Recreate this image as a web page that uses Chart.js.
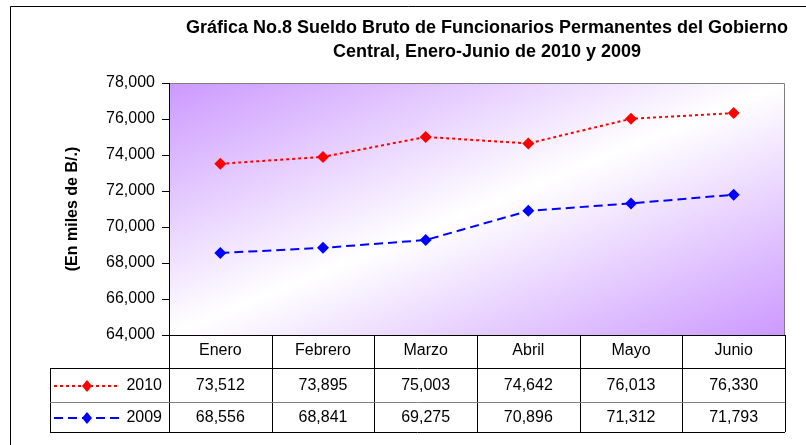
<!DOCTYPE html>
<html>
<head>
<meta charset="utf-8">
<script src="https://cdn.jsdelivr.net/npm/chart.js@4.4.1/dist/chart.umd.min.js"></script>
<style>
  html, body { margin: 0; padding: 0; background: #fff; }
  #grafica { display: block; }
</style>
</head>
<body>
<canvas id="grafica" width="806" height="445"></canvas>
<script>
// Datos de la gráfica
const meses = ['Enero', 'Febrero', 'Marzo', 'Abril', 'Mayo', 'Junio'];
const series = ['2010', '2009'];
const sueldo2010 = [73512, 73895, 75003, 74642, 76013, 76330];
const sueldo2009 = [68556, 68841, 69275, 70896, 71312, 71793];
const ejeMin = 64000;
const ejeMax = 78000;
const ejePaso = 2000;
const titulo = ['Gráfica No.8 Sueldo Bruto de Funcionarios Permanentes del Gobierno',
                'Central, Enero-Junio de 2010 y 2009'];
const tituloEjeY = '(En miles de B/.)';

const FUENTE = "'Liberation Sans', Arial, sans-serif";
const fmt = v => v.toLocaleString('en-US');

const estilos = [
    { color: '#FF0000', dash: [3, 3] },
    { color: '#0000FF', dash: [9, 5] }
];

function diamante(ctx, x, y, r, color) {
    ctx.save();
    ctx.setLineDash([]);
    ctx.fillStyle = color;
    ctx.beginPath();
    ctx.moveTo(x, y - r - 1);
    ctx.lineTo(x + r, y);
    ctx.lineTo(x, y + r + 1);
    ctx.lineTo(x - r, y);
    ctx.closePath();
    ctx.fill();
    ctx.restore();
}

// Marco exterior, título y fondo degradado del área de trazado
const fondoPlugin = {
    id: 'fondo',
    beforeDraw(chart) {
        const { ctx, chartArea: a } = chart;
        ctx.save();
        ctx.fillStyle = '#FFFFFF';
        ctx.fillRect(0, 0, chart.width, chart.height);

        ctx.strokeStyle = '#000000';
        ctx.lineWidth = 1;
        ctx.beginPath();
        ctx.moveTo(10.5, chart.height);
        ctx.lineTo(10.5, 6.5);
        ctx.lineTo(chart.width, 6.5);
        ctx.stroke();

        const w = a.right - a.left, h = a.bottom - a.top;
        const cx = a.left + w / 2, cy = a.top + h / 2;
        const len = Math.hypot(w, h);
        const ux = h / len, uy = w / len;
        const d = (w * h) / len;
        const g = ctx.createLinearGradient(cx - ux * d, cy - uy * d, cx + ux * d, cy + uy * d);
        g.addColorStop(0, '#CC99FF');
        g.addColorStop(0.5, '#FFFFFF');
        g.addColorStop(1, '#CC99FF');
        ctx.fillStyle = g;
        ctx.fillRect(a.left, a.top, w, h);

        // borde gris arriba y a la derecha
        ctx.strokeStyle = '#808080';
        ctx.beginPath();
        ctx.moveTo(a.left, a.top + 0.5);
        ctx.lineTo(a.right - 0.5, a.top + 0.5);
        ctx.lineTo(a.right - 0.5, a.bottom);
        ctx.stroke();

        // título
        ctx.fillStyle = '#000000';
        ctx.font = 'bold 18px ' + FUENTE;
        ctx.textAlign = 'center';
        ctx.textBaseline = 'middle';
        ctx.fillText(titulo[0], 487, 28);
        ctx.fillText(titulo[1], 487, 52);
        ctx.restore();
    }
};

// Tabla de datos bajo el eje X
const tablaPlugin = {
    id: 'tabla',
    afterDraw(chart) {
        const { ctx, chartArea: a } = chart;
        const x = chart.scales.x;
        const paso = x.getPixelForValue(1) - x.getPixelForValue(0);
        const filas = [a.bottom, a.bottom + 33, a.bottom + 67, a.bottom + 97];
        const izq = 50;
        const valores = [sueldo2010, sueldo2009];

        ctx.save();
        ctx.lineWidth = 1;
        ctx.strokeStyle = '#000000';
        ctx.beginPath();
        // líneas horizontales
        ctx.moveTo(a.left, filas[0] + 0.5);
        ctx.lineTo(a.right, filas[0] + 0.5);
        ctx.moveTo(izq, filas[1] + 0.5);
        ctx.lineTo(a.right, filas[1] + 0.5);
        ctx.moveTo(izq, filas[3] + 0.5);
        ctx.lineTo(a.right, filas[3] + 0.5);
        // líneas verticales
        ctx.moveTo(izq + 0.5, filas[1]);
        ctx.lineTo(izq + 0.5, filas[3]);
        for (let i = 0; i <= meses.length; i++) {
            const px = Math.round(x.getPixelForValue(0) - paso / 2 + i * paso) + 0.5;
            ctx.moveTo(px, filas[0]);
            ctx.lineTo(px, filas[3]);
        }
        ctx.stroke();

        ctx.strokeStyle = '#808080';
        ctx.beginPath();
        ctx.moveTo(izq, filas[2] + 0.5);
        ctx.lineTo(a.right, filas[2] + 0.5);
        ctx.stroke();

        ctx.font = '16px ' + FUENTE;
        ctx.fillStyle = '#000000';
        ctx.textBaseline = 'middle';
        valores.forEach((serie, s) => {
            const cy = (filas[s + 1] + filas[s + 2]) / 2 + 1;
            ctx.textAlign = 'center';
            serie.forEach((v, i) => {
                ctx.fillText(fmt(v), x.getPixelForValue(i), cy);
            });
            // clave de la serie
            ctx.textAlign = 'right';
            ctx.fillText(series[s], 162, cy);
            ctx.save();
            ctx.strokeStyle = estilos[s].color;
            ctx.lineWidth = 2;
            ctx.setLineDash(estilos[s].dash);
            ctx.beginPath();
            ctx.moveTo(54, cy);
            ctx.lineTo(119, cy);
            ctx.stroke();
            ctx.restore();
            diamante(ctx, 87, cy, 5, estilos[s].color);
        });
        ctx.restore();
    }
};

const ctx = document.getElementById('grafica').getContext('2d');
new Chart(ctx, {
    type: 'line',
    data: {
        labels: meses,
        datasets: [sueldo2010, sueldo2009].map((datos, s) => ({
            label: series[s],
            data: datos,
            borderColor: estilos[s].color,
            backgroundColor: estilos[s].color,
            borderWidth: 2,
            borderDash: estilos[s].dash,
            pointStyle: 'rectRot',
            pointRadius: 6,
            pointBorderWidth: 0,
            pointBackgroundColor: estilos[s].color,
            tension: 0,
            fill: false
        }))
    },
    options: {
        responsive: false,
        animation: false,
        devicePixelRatio: 1,
        layout: { padding: { top: 83, right: 21, bottom: 0, left: 0 } },
        plugins: {
            legend: { display: false },
            tooltip: { enabled: false },
            title: { display: false }
        },
        scales: {
            x: {
                type: 'category',
                offset: true,
                grid: { display: false, drawTicks: false, offset: true },
                border: { display: false },
                ticks: {
                    color: '#000000',
                    font: { family: FUENTE, size: 16 },
                    padding: 6,
                    maxRotation: 0
                },
                afterFit(scale) { scale.height = 110; }
            },
            y: {
                min: ejeMin,
                max: ejeMax,
                grid: {
                    drawOnChartArea: false,
                    drawTicks: true,
                    tickLength: 7,
                    color: '#000000'
                },
                border: { display: true, color: '#000000', width: 1 },
                ticks: {
                    stepSize: ejePaso,
                    color: '#000000',
                    font: { family: FUENTE, size: 16 },
                    padding: 7,
                    callback: v => fmt(v)
                },
                title: {
                    display: true,
                    text: tituloEjeY,
                    color: '#000000',
                    font: { family: FUENTE, size: 16, weight: 'bold' },
                    padding: { top: 63, bottom: 0 }
                },
                afterFit(scale) { scale.width = 169; }
            }
        }
    },
    plugins: [fondoPlugin, tablaPlugin]
});
</script>
</body>
</html>
